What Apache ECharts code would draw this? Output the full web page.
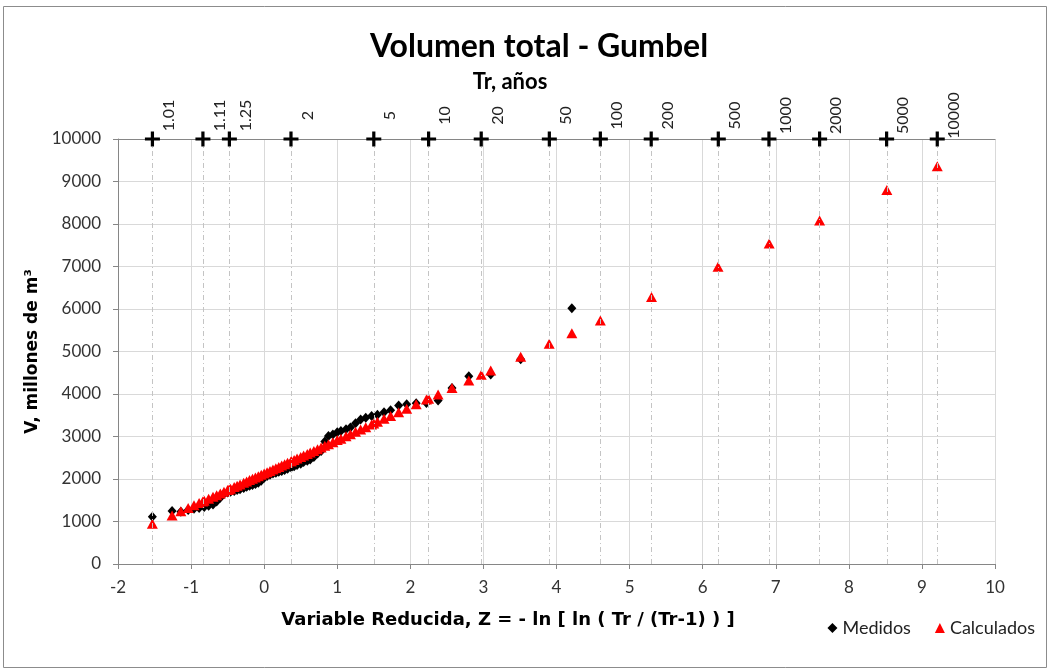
<!DOCTYPE html>
<html><head><meta charset="utf-8">
<script src="https://cdn.jsdelivr.net/npm/echarts@6/dist/echarts.min.js"></script>
<style>html,body{margin:0;padding:0;background:#fff}#c{width:1050px;height:672px}</style>
</head><body><div id="c"></div>
<script>
// Return periods shown on the top scale and their reduced-variate positions
const trLabels = ['1.01','1.11','1.25','2','5','10','20','50','100','200','500','1000','2000','5000','10000'];
const trZ = [-1.529,-0.838,-0.476,0.367,1.500,2.250,2.970,3.902,4.600,5.296,6.214,6.907,7.600,8.517,9.210];

// Medidos (measured)
const medZ = [-1.53,-1.26,-1.14,-1.04,-0.96,-0.89,-0.82,-0.76,-0.70,-0.65,
  -0.60,-0.55,-0.50,-0.46,-0.41,-0.37,-0.33,-0.28,-0.24,-0.20,
  -0.16,-0.12,-0.08,-0.04,0.00,0.04,0.08,0.12,0.16,0.20,
  0.24,0.28,0.32,0.37,0.41,0.45,0.50,0.54,0.59,0.63,
  0.68,0.73,0.78,0.83,0.88,0.94,1.00,1.05,1.12,1.18,
  1.25,1.32,1.39,1.47,1.55,1.64,1.73,1.84,1.95,2.08,
  2.22,2.38,2.57,2.80,3.10,3.51,4.21];
const medV = [1110,1250,1230,1270,1300,1320,1340,1370,1400,1470,
  1560,1650,1680,1700,1720,1740,1760,1790,1820,1840,
  1860,1880,1910,1960,2030,2070,2100,2130,2150,2170,
  2190,2210,2240,2270,2300,2330,2360,2400,2430,2460,
  2520,2600,2660,2880,3010,3050,3100,3130,3170,3210,
  3310,3400,3440,3480,3510,3570,3620,3730,3760,3780,
  3790,3850,4140,4420,4460,4820,6020];

// Calculados (Gumbel fit)
const calZ = [-1.53,-1.26,-1.14,-1.04,-0.96,-0.89,-0.82,-0.76,-0.70,-0.65,
  -0.60,-0.55,-0.50,-0.46,-0.41,-0.37,-0.33,-0.28,-0.24,-0.20,
  -0.16,-0.12,-0.08,-0.04,0.00,0.04,0.08,0.12,0.16,0.20,
  0.24,0.28,0.32,0.37,0.41,0.45,0.50,0.54,0.59,0.63,
  0.68,0.73,0.78,0.83,0.88,0.94,1.00,1.05,1.12,1.18,
  1.25,1.32,1.39,1.47,1.55,1.64,1.73,1.84,1.95,2.08,
  2.22,2.38,2.57,2.80,3.10,3.51,4.21,
  -0.84,-0.48,0.37,1.50,2.25,2.97,3.90,4.60,5.30,6.21,6.91,7.60,8.52,9.21];
const calV = [950,1140,1240,1315,1380,1435,1490,1535,1580,1620,
  1660,1700,1740,1770,1810,1840,1870,1910,1940,1975,
  2005,2035,2065,2100,2130,2160,2190,2225,2255,2285,
  2320,2350,2380,2420,2450,2485,2520,2555,2590,2625,
  2660,2700,2740,2780,2820,2865,2915,2950,3005,3055,
  3110,3165,3220,3280,3345,3415,3485,3570,3655,3760,
  3870,3990,4140,4320,4555,4875,5430,
  1470,1755,2420,3305,3890,4455,5185,5730,6280,6995,7540,8080,8800,9360];

const xMin = -2, xMax = 10, xStep = 1;
const yMin = 0, yMax = 10000, yStep = 1000;

const zip = (a, b) => a.map((v, i) => [v, b[i]]);
const FONT = 'Lato, "Liberation Sans", sans-serif';
const NAMEFONT = '"DejaVu Sans", Verdana, sans-serif';
const plus = 'path://M5.5,0h3v5.5h5.5v3h-5.5v5.5h-3v-5.5h-5.5v-3h5.5z';

const chart = echarts.init(document.getElementById('c'), null, {renderer: 'canvas'});
chart.setOption({
  animation: false,
  backgroundColor: '#fff',
  title: {
    text: 'Volumen total - Gumbel',
    left: 534, top: 26, textAlign: 'center',
    textStyle: {fontFamily: FONT, fontSize: 32, fontWeight: 'bold', color: '#000'}
  },
  graphic: [
    {type: 'rect', shape: {x: 3.5, y: 6.5, width: 1043, height: 661}, style: {fill: 'none', stroke: '#8c8c8c', lineWidth: 1}, silent: true, z: -10},
    {type: 'text', x: 510, y: 82, style: {text: 'Tr, años', font: 'bold 22px ' + FONT, fill: '#000', textAlign: 'center', textVerticalAlign: 'middle'}},
    {type: 'text', x: 508, y: 620, style: {text: 'Variable Reducida, Z = - ln [ ln ( Tr / (Tr-1) ) ]', font: 'bold 18px ' + NAMEFONT, fill: '#000', textAlign: 'center', textVerticalAlign: 'middle'}}
  ],
  legend: {
    right: 10, top: 614, itemWidth: 10, itemHeight: 10, itemGap: 24,
    textStyle: {fontFamily: FONT, fontSize: 18, color: '#222'},
    data: [{name: 'Medidos', icon: 'diamond'}, {name: 'Calculados', icon: 'triangle'}]
  },
  grid: {left: 118, right: 55, top: 139, bottom: 108, containLabel: false},
  xAxis: [{
    type: 'value', min: xMin, max: xMax, interval: xStep,
    axisLine: {onZero: false, lineStyle: {color: '#868686', width: 1}},
    axisTick: {show: true, length: 5, lineStyle: {color: '#868686'}},
    axisLabel: {fontFamily: FONT, fontSize: 17, color: '#333', margin: 15},
    splitLine: {show: true, lineStyle: {color: '#d9d9d9', width: 1}}
  }, {
    type: 'value', min: xMin, max: xMax, interval: xStep, position: 'top',
    axisLine: {show: true, onZero: false, lineStyle: {color: '#868686', width: 1}},
    axisTick: {show: false}, axisLabel: {show: false}, splitLine: {show: false}
  }],
  yAxis: {
    type: 'value', min: yMin, max: yMax, interval: yStep,
    name: 'V, millones de m³', nameLocation: 'middle', nameGap: 74,
    nameTextStyle: {fontFamily: NAMEFONT, fontSize: 17, fontWeight: 'bold', color: '#000'},
    axisLine: {show: true, onZero: false, lineStyle: {color: '#868686', width: 1}},
    axisTick: {show: true, length: 5, lineStyle: {color: '#868686'}},
    axisLabel: {fontFamily: FONT, fontSize: 17, color: '#333', margin: 17, formatter: v => String(v)},
    splitLine: {show: true, lineStyle: {color: '#d9d9d9', width: 1}}
  },
  series: [
    {
      name: 'Tr', type: 'scatter', xAxisIndex: 1, clip: false, silent: true,
      symbol: plus, symbolSize: 15, z: 5,
      itemStyle: {color: '#000', opacity: 1},
      data: trZ.map((z, i) => ({value: [z, yMax], name: trLabels[i]})),
      label: {
        show: true, formatter: p => p.name, rotate: 90,
        position: [24, -16], align: 'center', verticalAlign: 'middle',
        fontFamily: FONT, fontSize: 16, color: '#222'
      },
      markLine: {
        silent: true, symbol: ['none', 'none'], label: {show: false},
        lineStyle: {color: '#c4c4c4', width: 1, type: [5, 3, 1, 3]},
        data: trZ.map(z => ({xAxis: z}))
      }
    },
    {
      name: 'Medidos', type: 'scatter', symbol: 'diamond', symbolSize: [9, 10], z: 3,
      itemStyle: {color: '#000', opacity: 1},
      data: zip(medZ, medV)
    },
    {
      name: 'Calculados', type: 'scatter', symbol: 'triangle', symbolSize: [11, 10], z: 4,
      itemStyle: {color: '#ff0000', opacity: 1},
      data: zip(calZ, calV)
    }
  ]
});
</script></body></html>
